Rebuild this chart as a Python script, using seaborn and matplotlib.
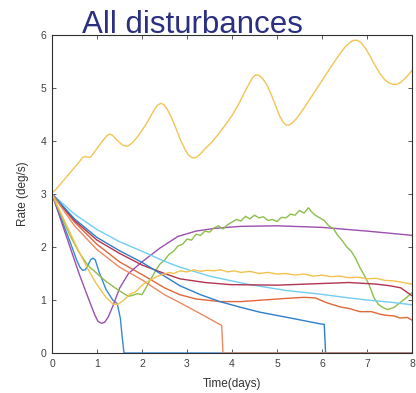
import numpy as np
import pandas as pd
import matplotlib
matplotlib.use("Agg")
import matplotlib.pyplot as plt
import seaborn as sns

# Rate curves, one (time, rate) list per run
blue_t = [0, 0.2, 0.4, 0.55, 0.62, 0.68, 0.74, 0.8, 0.86, 0.91, 0.96, 1.05, 1.2, 1.35, 1.45, 1.52, 1.56, 1.6, 8]
blue_r = [3.0, 2.55, 2.1, 1.75, 1.62, 1.56, 1.57, 1.66, 1.76, 1.79, 1.76, 1.52, 1.2, 1.0, 0.93, 0.65, 0.3, 0.0, 0.0]

orange_t = [0, 0.5, 1, 1.5, 2, 2.5, 2.84, 3.2, 3.73, 4.2, 4.7, 5.2, 5.6, 5.85, 6.1, 6.4,
            6.6, 6.84, 7.1, 7.3, 7.44, 7.6, 7.73, 7.9, 8]
orange_r = [3.0, 2.47, 2.05, 1.72, 1.48, 1.23, 1.1, 1.02, 0.97, 0.97, 1.0, 1.03, 1.05, 1.04,
            0.95, 0.87, 0.84, 0.78, 0.78, 0.73, 0.71, 0.7, 0.66, 0.67, 0.62]

yellow_top_t = [0, 0.1, 0.2, 0.3, 0.4, 0.5, 0.6, 0.68, 0.74, 0.8, 0.86, 0.95, 1.05, 1.15, 1.22,
                1.28, 1.34, 1.42, 1.5, 1.58, 1.65, 1.72, 1.8, 1.9, 2.0, 2.1, 2.2, 2.28, 2.35,
                2.42, 2.48, 2.56, 2.65, 2.75, 2.85, 2.95, 3.03, 3.1, 3.16, 3.22, 3.3, 3.4, 3.55,
                3.7, 3.85, 4.0, 4.15, 4.28, 4.38, 4.46, 4.53, 4.6, 4.68, 4.78, 4.88, 4.98, 5.06,
                5.14, 5.2, 5.27, 5.35, 5.45, 5.6, 5.8, 6.0, 6.2, 6.4, 6.52, 6.62, 6.7, 6.78,
                6.86, 6.95, 7.05, 7.15, 7.28, 7.4, 7.5, 7.58, 7.66, 7.74, 7.82, 7.9, 8.0]
yellow_top_r = [3.02, 3.1, 3.2, 3.3, 3.4, 3.5, 3.6, 3.69, 3.71, 3.69, 3.7, 3.8, 3.92, 4.03, 4.1,
                4.13, 4.11, 4.04, 3.97, 3.92, 3.9, 3.92, 3.98, 4.08, 4.2, 4.33, 4.48, 4.6, 4.68,
                4.71, 4.69, 4.6, 4.45, 4.25, 4.03, 3.85, 3.74, 3.69, 3.68, 3.7, 3.76, 3.85, 3.98,
                4.13, 4.3, 4.48, 4.7, 4.92, 5.08, 5.2, 5.25, 5.24, 5.18, 5.05, 4.86, 4.64, 4.47,
                4.35, 4.3, 4.3, 4.35, 4.44, 4.62, 4.88, 5.14, 5.4, 5.65, 5.78, 5.86, 5.9, 5.9,
                5.86, 5.77, 5.63, 5.47, 5.28, 5.15, 5.09, 5.07, 5.07, 5.1, 5.16, 5.23, 5.33]

purple_t = [0, 0.2, 0.4, 0.6, 0.8, 0.95, 1.02, 1.1, 1.17, 1.25, 1.35, 1.5, 1.7, 2.0, 2.4, 2.8,
            3.2, 3.6, 4.2, 5.0, 6.0, 7.0, 8.0]
purple_r = [3.0, 2.5, 2.0, 1.5, 1.05, 0.72, 0.6, 0.56, 0.58, 0.68, 0.88, 1.22, 1.5, 1.72, 1.98,
            2.2, 2.3, 2.35, 2.39, 2.4, 2.37, 2.3, 2.22]

green_t = [0, 0.2, 0.4, 0.6, 0.8, 1.0, 1.2, 1.45, 1.6, 1.7, 1.8, 1.9, 2.0, 2.1, 2.2, 2.3, 2.4,
           2.5, 2.6, 2.7, 2.8, 2.9, 3.0, 3.1, 3.2, 3.3, 3.4, 3.5, 3.6, 3.7, 3.8, 3.9, 4.0,
           4.1, 4.2, 4.3, 4.4, 4.5, 4.6, 4.7, 4.8, 4.9, 5.0, 5.1, 5.2, 5.3, 5.4, 5.5, 5.6,
           5.7, 5.75, 5.85, 5.95, 6.05, 6.15, 6.25, 6.35, 6.45, 6.55, 6.65, 6.75, 6.85, 6.95,
           7.05, 7.15, 7.25, 7.35, 7.45, 7.6, 7.75, 7.9, 8.0]
green_r = [3.0, 2.6, 2.22, 1.9, 1.65, 1.5, 1.35, 1.2, 1.12, 1.07, 1.09, 1.12, 1.1, 1.25, 1.4,
           1.55, 1.68, 1.75, 1.86, 1.92, 2.02, 2.05, 2.15, 2.13, 2.24, 2.22, 2.3, 2.28, 2.36,
           2.4, 2.34, 2.42, 2.47, 2.52, 2.49, 2.58, 2.53, 2.6, 2.55, 2.57, 2.5, 2.52, 2.48,
           2.56, 2.55, 2.62, 2.6, 2.69, 2.64, 2.74, 2.68, 2.6, 2.55, 2.5, 2.4, 2.35, 2.22,
           2.12, 2.0, 1.92, 1.78, 1.6, 1.45, 1.28, 1.05, 0.92, 0.86, 0.82, 0.86, 0.96, 1.06, 1.14]

cyan_t = [0, 0.5, 1, 1.5, 2, 2.5, 2.84, 3.5, 4.33, 5.2, 5.96, 6.5, 7.0, 7.5, 8.0]
cyan_r = [3.0, 2.62, 2.33, 2.1, 1.92, 1.73, 1.62, 1.45, 1.3, 1.18, 1.11, 1.05, 1.0, 0.96, 0.91]

darkred_t = [0, 0.5, 1, 1.5, 2, 2.5, 2.84, 3.4, 3.96, 5.0, 5.96, 6.6, 7.2, 7.5, 7.75, 8.0]
darkred_r = [3.0, 2.5, 2.13, 1.88, 1.66, 1.5, 1.4, 1.33, 1.29, 1.28, 1.31, 1.33, 1.3, 1.27, 1.23, 1.08]

darkblue_t = [0, 0.5, 1, 1.5, 2, 2.5, 2.84, 3.3, 3.73, 4.2, 4.62, 5.3, 5.96, 6.05, 6.08, 8]
darkblue_r = [3.0, 2.53, 2.18, 1.93, 1.71, 1.45, 1.27, 1.1, 0.97, 0.86, 0.77, 0.66, 0.55, 0.54, 0.0, 0.0]

salmon_t = [0, 0.5, 1, 1.5, 2, 2.5, 2.84, 3.3, 3.77, 3.8, 8]
salmon_r = [3.0, 2.4, 1.95, 1.62, 1.38, 1.1, 0.95, 0.74, 0.52, 0.0, 0.0]

yellow_t = [0, 0.3, 0.59, 0.8, 0.99, 1.2, 1.36, 1.47, 1.6, 1.73, 1.85, 2.03, 2.2, 2.35, 2.5,
            2.6, 2.7, 2.85, 3.0, 3.15, 3.3, 3.44, 3.6, 3.75, 3.9, 4.05, 4.2, 4.4, 4.6, 4.8,
            5.0, 5.2, 5.4, 5.6, 5.8, 6.0, 6.2, 6.4, 6.6, 6.8, 7.0, 7.2, 7.4, 7.6, 7.8, 8.0]
yellow_r = [3.0, 2.45, 1.93, 1.58, 1.3, 1.05, 0.92, 0.92, 1.0, 1.11, 1.15, 1.3, 1.38, 1.45, 1.49,
            1.52, 1.5, 1.55, 1.53, 1.57, 1.54, 1.56, 1.55, 1.57, 1.53, 1.55, 1.52, 1.54, 1.5,
            1.52, 1.49, 1.5, 1.47, 1.49, 1.45, 1.47, 1.44, 1.45, 1.42, 1.43, 1.4, 1.41, 1.37,
            1.36, 1.33, 1.3]

runs = ["r1", "r2", "r3", "r4", "r5", "r6", "r7", "r8", "r9", "r10"]
times = [blue_t, orange_t, yellow_top_t, purple_t, green_t, cyan_t, darkred_t, darkblue_t, salmon_t, yellow_t]
rates = [blue_r, orange_r, yellow_top_r, purple_r, green_r, cyan_r, darkred_r, darkblue_r, salmon_r, yellow_r]
colors = ["#3a8ad2", "#e0673a", "#f2c453", "#9b4fae", "#8cbf4c",
          "#72cdf2", "#b23450", "#2f7ec8", "#ec8a62", "#f3c24e"]

df = pd.concat([pd.DataFrame({"t": t, "rate": r, "run": name})
                for name, t, r in zip(runs, times, rates)], ignore_index=True)

sns.set_theme(style="ticks")
plt.rcParams["font.family"] = ["Liberation Sans", "DejaVu Sans"]
plt.rcParams["xtick.direction"] = "in"
plt.rcParams["ytick.direction"] = "in"

fig = plt.figure(figsize=(4.16, 3.93), dpi=100)
ax = fig.add_axes([52 / 416, 40 / 393, 360 / 416, 318 / 393])

sns.lineplot(data=df, x="t", y="rate", hue="run", palette=dict(zip(runs, colors)),
             estimator=None, sort=False, legend=False, linewidth=1.0, ax=ax)

ax.set_xlim(0, 8)
ax.set_ylim(0, 6)
ax.set_xticks(range(0, 9))
ax.set_yticks(range(0, 7))
ax.tick_params(axis="both", which="both", top=True, right=True, length=3, width=0.6,
               labelsize=7.5, labelcolor="#404040", color="#404040", pad=4)
for side in ["top", "right", "bottom", "left"]:
    ax.spines[side].set_visible(True)
    ax.spines[side].set_linewidth(0.8)
    ax.spines[side].set_color("#303030")

ax.set_xlabel("Time(days)", fontsize=8.5, color="#333333", labelpad=7)
ax.set_ylabel("Rate (deg/s)", fontsize=8.5, color="#333333", labelpad=8)

fig.text(82 / 416, 1 - 33 / 393, "All disturbances", fontsize=22.5,
         color="#2a2f80", ha="left", va="baseline")

plt.savefig("out.png", dpi=100)
